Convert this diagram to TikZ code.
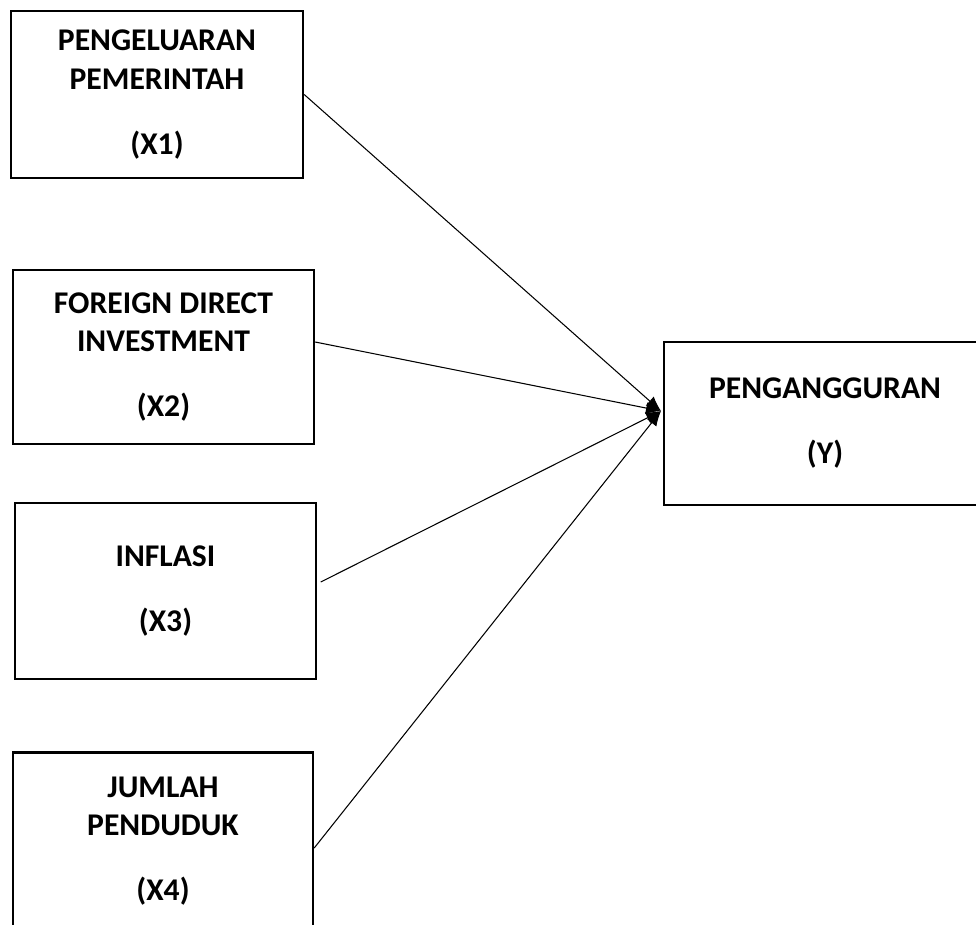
\documentclass[tikz,border=0pt]{standalone}
\usepackage{fontspec}
\setmainfont{Carlito}
\usetikzlibrary{arrows.meta,positioning,calc}

\begin{document}
\begin{tikzpicture}[
    x=0.02cm, y=-0.02cm,
    >={Latex[length=0.3cm,width=0.24cm]},
    var/.style={draw, line width=1.4pt, align=center, inner sep=0pt,
        font=\fontsize{18}{22}\selectfont\bfseries},
    link/.style={->, line width=0.6pt},
]
\useasboundingbox (0,0) rectangle (976,924);

% independent variables (left column)
\node[var, minimum width=5.84cm, minimum height=3.34cm] (x1) at (157,94.5)
    {PENGELUARAN\\PEMERINTAH\\[15pt](X1)};
\node[var, minimum width=6.02cm, minimum height=3.48cm] (x2) at (163.5,357)
    {FOREIGN DIRECT\\INVESTMENT\\[15pt](X2)};
\node[var, minimum width=6.02cm, minimum height=3.52cm] (x3) at (165.5,591)
    {INFLASI\\[15pt](X3)};
\node[var, minimum width=6.00cm, minimum height=3.54cm] (x4) at (163,841)
    {JUMLAH\\PENDUDUK\\[15pt](X4)};

% dependent variable
\node[var, minimum width=6.44cm, minimum height=3.26cm] (y) at (825,423.5)
    {PENGANGGURAN\\[15pt](Y)};
\coordinate (tip) at (661,411);

% paths
\draw[link] (x1.east) -- (tip);
\draw[link] ([yshift=0.3cm]x2.east) -- (tip);
\draw[link] ([xshift=2pt,yshift=0.18cm]x3.east) -- (tip);
\draw[link] ([yshift=-0.14cm]x4.east) -- (tip);

\end{tikzpicture}
\end{document}
